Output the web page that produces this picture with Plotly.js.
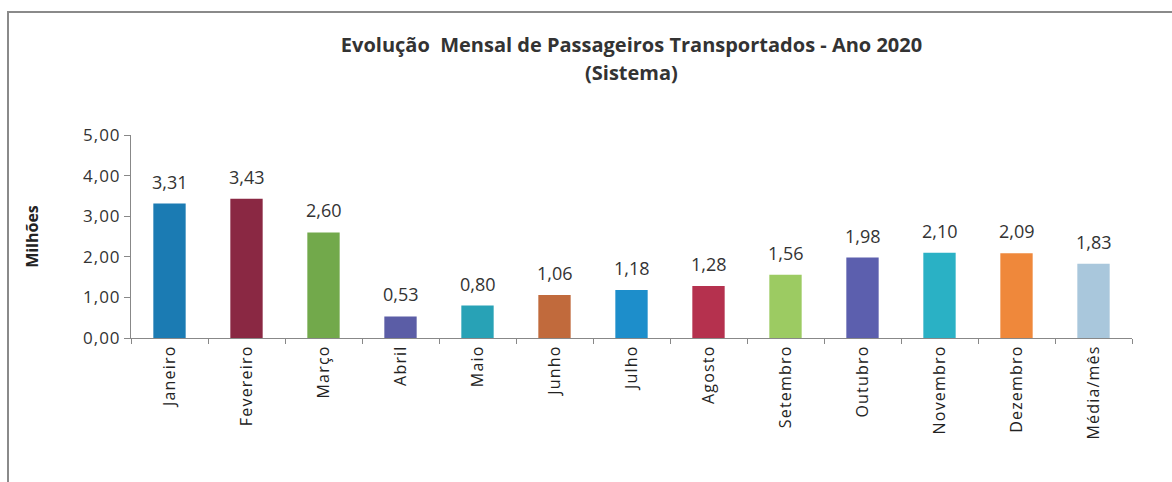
<!DOCTYPE html>
<html>
<head>
<meta charset="utf-8">
<script src="https://cdn.plot.ly/plotly-3.0.1.min.js"></script>
<style>
  html, body { margin: 0; padding: 0; background: #ffffff; }
  #frame { position: absolute; left: 7px; top: 11px; width: 1180px; height: 480px; border-left: 2px solid #8a8a8a; border-top: 2px solid #8a8a8a; box-sizing: border-box; pointer-events: none; z-index: 5; }
  #chart { position: absolute; left: 0; top: 0; width: 1172px; height: 482px; }
  #chart .xtick text { letter-spacing: 1.2px; }
  #chart .ytick text { letter-spacing: 1px; }
</style>
</head>
<body>
<div id="chart"></div>
<div id="frame"></div>
<script>
const categories = ["Janeiro", "Fevereiro", "Março", "Abril", "Maio", "Junho", "Julho", "Agosto", "Setembro", "Outubro", "Novembro", "Dezembro", "Média/mês"];
const values = [3.31, 3.43, 2.60, 0.53, 0.80, 1.06, 1.18, 1.28, 1.56, 1.98, 2.10, 2.09, 1.83];
const valueLabels = ["3,31", "3,43", "2,60", "0,53", "0,80", "1,06", "1,18", "1,28", "1,56", "1,98", "2,10", "2,09", "1,83"];
const barColors = ["#1b7bb3", "#8a2843", "#72a94b", "#5b5da6", "#28a2b6", "#c16a3c", "#1d8ecb", "#b5314e", "#9ccb62", "#5c5fae", "#2ab1c5", "#ef883b", "#a9c7dc"];
const yTickVals = [0, 1, 2, 3, 4, 5];
const yTickText = ["0,00", "1,00", "2,00", "3,00", "4,00", "5,00"];
const titleLine1 = "Evolução  Mensal de Passageiros Transportados - Ano 2020";
const titleLine2 = "(Sistema)";

const fontFam = "Open Sans, Liberation Sans, sans-serif";

const trace = {
  type: "bar",
  x: categories,
  y: values,
  marker: { color: barColors, line: { width: 0 } },
  width: 0.42,
  hoverinfo: "x+y"
};

const labelAnnotations = categories.map((c, i) => ({
  x: c, y: values[i], xref: "x", yref: "y",
  text: valueLabels[i], showarrow: false,
  yanchor: "bottom", yshift: 8,
  font: { family: fontFam, size: 18, color: "#333333" }
}));

const layout = {
  width: 1172,
  height: 482,
  margin: { l: 131, r: 40, t: 135, b: 144 },
  paper_bgcolor: "#ffffff",
  plot_bgcolor: "#ffffff",
  showlegend: false,
  title: {
    text: "<b>" + titleLine1 + "</b>",
    x: 0.5, xref: "paper", xanchor: "center",
    y: 1 - 45 / 482, yref: "container", yanchor: "middle",
    font: { family: fontFam, size: 20, color: "#333333" }
  },
  annotations: labelAnnotations.concat([{
    text: "<b>" + titleLine2 + "</b>", showarrow: false,
    xref: "paper", x: 0.5, xanchor: "center",
    yref: "paper", y: 1 + (135 - 73) / 203, yanchor: "middle",
    font: { family: fontFam, size: 20, color: "#333333" }
  }]),
  xaxis: {
    type: "category",
    tickangle: -90,
    tickfont: { family: fontFam, size: 16, color: "#222222" },
    showline: true, linecolor: "#888888", linewidth: 1,
    ticks: "outside", ticklen: 5, tickcolor: "#888888",
    tickson: "boundaries",
    showgrid: false, zeroline: false
  },
  yaxis: {
    range: [0, 5],
    tickvals: yTickVals,
    ticktext: yTickText,
    tickfont: { family: fontFam, size: 17, color: "#333333" },
    showline: true, linecolor: "#888888", linewidth: 1,
    ticks: "outside", ticklen: 6, tickcolor: "#888888",
    showgrid: false, zeroline: false,
    title: { text: "<b>Milhões</b>", font: { family: fontFam, size: 16, color: "#222222" }, standoff: 44 }
  }
};

Plotly.newPlot("chart", [trace], layout, { displayModeBar: false, staticPlot: true });
</script>
</body>
</html>
